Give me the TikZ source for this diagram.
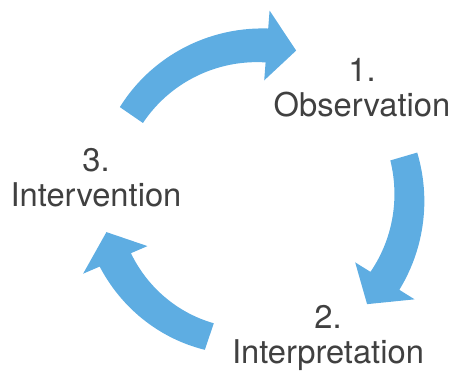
\documentclass[tikz,border=0pt]{standalone}
\usepackage{fontspec}
\setmainfont{TeX Gyre Heros}
\usepackage{tikz}
\usetikzlibrary{calc,positioning}
\definecolor{cycleblue}{RGB}{94,173,226}
\definecolor{labelgray}{RGB}{64,64,64}
\tikzset{
    stage/.style={align=center, text=labelgray, inner sep=0pt, anchor=base, font=\fontsize{32.7}{35}\selectfont},
    cyclefill/.style={fill=cycleblue},
}
% curved block arrow round (0,0): #1 tail angle, #2 tip angle, #3 tail radius, #4 tip radius
\newcommand{\cyclearrow}[4]{%
    \fill[cyclefill] plot[domain={#1}:{#2+11}, samples=30]
        (\x:{#3+(#4-#3)*(\x-(#1))/(#2+11-(#1)) + 14 + 3*(\x-(#1))/(#2+11-(#1))})
        -- ({#2+11}:{#4+35}) -- ({#2}:{#4}) -- ({#2+11}:{#4-35})
        -- plot[domain={#2+11}:{#1}, samples=30]
        (\x:{#3+(#4-#3)*(\x-(#1))/(#2+11-(#1)) - 14 - 3*(\x-(#1))/(#2+11-(#1))})
        -- cycle;
}

\begin{document}
\begin{tikzpicture}
        [x=1pt, y=1pt]
        \useasboundingbox (0,0) rectangle (455,372);

        % Stages of the cycle
        \node[stage] (observation) at (362,255) {1.\\Observation};
        \node[stage] (interpretation) at (328,9) {2.\\Interpretation};
        \node[stage] (intervention) at (96,165) {3.\\Intervention};

        % Arrows round the hub
        \coordinate (hub) at (255,172);
        \begin{scope}[shift={(hub)}]
            \cyclearrow{145.5}{74.6}{150}{155}
            \cyclearrow{16.3}{-42.9}{155}{153}
            \cyclearrow{251.5}{192.2}{144}{152}
        \end{scope}

    \end{tikzpicture}
\end{document}
